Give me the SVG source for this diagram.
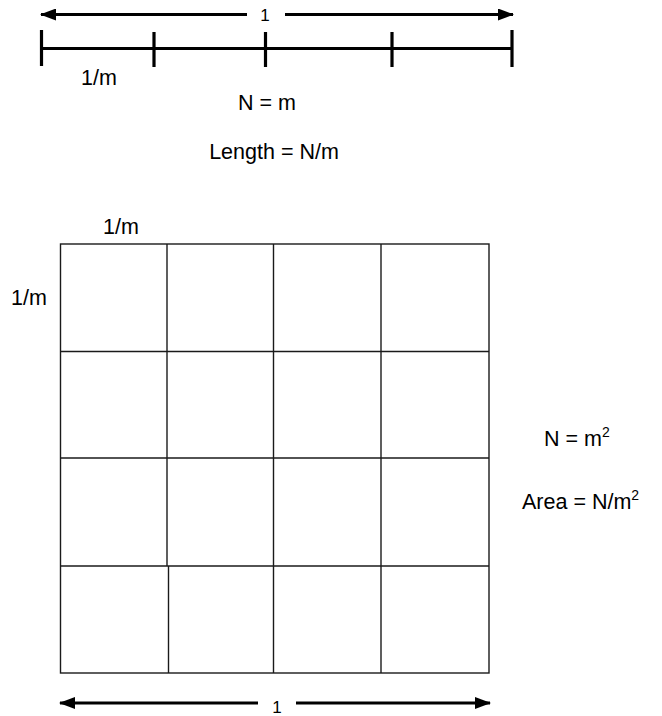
<svg xmlns="http://www.w3.org/2000/svg" width="662" height="716" viewBox="0 0 662 716">
<style>
text{font-family:"Liberation Sans",Arial,sans-serif;fill:#000}
.lbl{font-size:21.5px}
.one{font-size:17px}
.thick{stroke:#000;stroke-width:3.2;fill:none}
.arr{stroke:#000;stroke-width:3;fill:none}
.grid{stroke:#1a1a1a;stroke-width:1.4;fill:none}
</style>
<defs>
<marker id="ah" viewBox="0 0 16 12" refX="15" refY="6" markerWidth="16" markerHeight="12" markerUnits="userSpaceOnUse" orient="auto-start-reverse">
<path d="M0,0 L16,6 L0,12 Z" fill="#000"/>
</marker>
</defs>
<g id="connectors">
<line class="arr" x1="41" y1="14.5" x2="247" y2="14.5" marker-start="url(#ah)"/>
<line class="arr" x1="285" y1="14.5" x2="513" y2="14.5" marker-end="url(#ah)"/>
<line class="arr" x1="60" y1="703" x2="258" y2="703" marker-start="url(#ah)"/>
<line class="arr" x1="296" y1="703" x2="490" y2="703" marker-end="url(#ah)"/>
</g>
<g id="ruler">
<line class="thick" x1="41" y1="48.5" x2="512" y2="48.5"/>
<line class="thick" x1="41.5" y1="30" x2="41.5" y2="66"/>
<line class="thick" x1="154" y1="32" x2="154" y2="67"/>
<line class="thick" x1="265.5" y1="32" x2="265.5" y2="67"/>
<line class="thick" x1="392" y1="32" x2="392" y2="67"/>
<line class="thick" x1="512" y1="30" x2="512" y2="67"/>
</g>
<g id="grid">
<rect class="grid" x="60.5" y="244" width="428.5" height="429"/>
<line class="grid" x1="60.5" y1="351.5" x2="489" y2="351.5"/>
<line class="grid" x1="60.5" y1="458" x2="489" y2="458"/>
<line class="grid" x1="60.5" y1="566" x2="489" y2="566"/>
<line class="grid" x1="167" y1="244" x2="167" y2="566"/>
<line class="grid" x1="168.5" y1="566" x2="168.5" y2="673"/>
<line class="grid" x1="273.5" y1="244" x2="273.5" y2="673"/>
<line class="grid" x1="381" y1="244" x2="381" y2="673"/>
</g>
<g id="labels">
<text class="one" x="265" y="21" text-anchor="middle">1</text>
<text class="one" x="277" y="713" text-anchor="middle">1</text>
<text class="lbl" x="81" y="85">1/m</text>
<text class="lbl" x="267" y="110" text-anchor="middle">N = m</text>
<text class="lbl" x="274" y="159" text-anchor="middle">Length = N/m</text>
<text class="lbl" x="103" y="234">1/m</text>
<text class="lbl" x="11" y="305">1/m</text>
<text class="lbl" x="544" y="446">N = m<tspan font-size="14" dy="-9">2</tspan></text>
<text class="lbl" x="522" y="509">Area = N/m<tspan font-size="14" dy="-9">2</tspan></text>
</g>
</svg>
